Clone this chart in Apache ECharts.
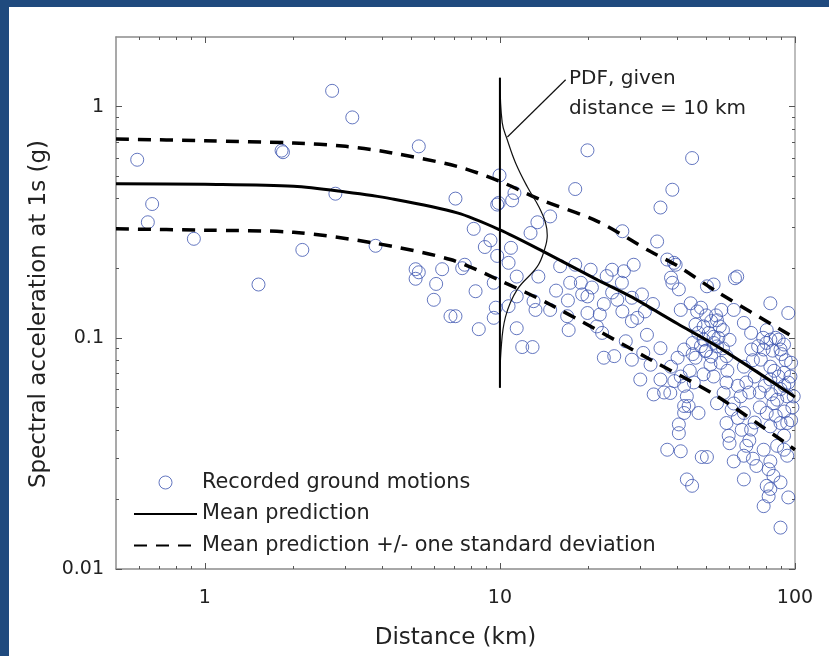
<!DOCTYPE html>
<html>
<head>
<meta charset="utf-8">
<script src="https://cdn.jsdelivr.net/npm/echarts@6/dist/echarts.min.js"></script>
<style>
html,body{margin:0;padding:0;background:#fff;}
#chart{width:829px;height:656px;}
</style>
</head>
<body>
<div id="chart"></div>
<script>
// Recorded ground motions: distance (km) and spectral acceleration (g)
const recordedDist = [0.59,0.663,0.641,0.918,1.82,1.84,2.70,3.16,2.77,2.14,3.79,1.52,5.31,5.18,5.31,5.18,6.37,6.08,5.97,6.8,7.07,8.15,8.89,9.29,9.79,9.97,9.9,9.79,11.0,11.2,10.9,13.4,14.8,12.7,18.0,19.8,26.0,35.0,38.4,44.8,34.1,36.9,39.4,38.0,63.7,16.0,18.0,20.3,24.0,26.3,28.4,7.45,7.6,10.7,11.4,13.5,9.53,8.27,7.07,8.48,9.53,9.68,10.7,11.4,11.9,12.9,11.4,13.0,13.2,14.8,17.3,16.9,17.1,18.8,19.0,19.8,19.8,21.8,21.3,24.0,25.0,25.9,28.0,29.2,30.3,22.2,22.5,24.4,26.7,28.0,30.6,31.5,32.4,29.9,33.2,35,35,37.8,38.4,38.9,40.4,41,42.1,41,42.1,43,43.6,42.1,42.1,40.4,40.4,36.9,41,43,44.8,47.1,48.3,50.3,44.3,46.6,46,49.0,50.3,53,62.6,49,49.7,51.7,49,45.4,53,54.4,55.6,56.3,54.4,58.6,58.6,57.3,61,58.6,59.6,54.4,53,62,62,67.1,71,71.2,67.1,68.4,65.4,67.1,71,68.4,67.1,67.1,74.0,82.5,94.9,80.2,82.5,88,89.3,91.8,78.3,76.6,82.5,91.8,96.5,82.5,89.3,94.1,84.5,80.2,89.3,94.1,82.5,91.8,78.3,87.0,94.1,82.5,81.4,84.5,80.2,82.5,81.4,78.3,94.9,89.3,91.8,99,89.3,
  48,50,52,51,53,55,57,50,52,56,59,47,48,54,57,60,45,46,78,80,84,86,90,93,97,85,88,92,95,79,83,87,98,76,86,92,97,75,72,73,70,62,64,66,70,73,76,72,60,64,38,40,44,36,39,45,15.5,17,20.5,22.5,26,28,23,31,33];
const recordedSa = [0.589,0.379,0.316,0.268,0.645,0.635,1.17,0.898,0.42,0.24,0.25,0.17,0.673,0.198,0.192,0.18,0.198,0.171,0.146,0.124,0.40,0.296,0.247,0.264,0.226,0.504,0.383,0.377,0.393,0.423,0.245,0.316,0.335,0.284,0.44,0.647,0.289,0.366,0.437,0.599,0.261,0.218,0.207,0.182,0.184,0.204,0.207,0.197,0.197,0.194,0.207,0.2,0.207,0.211,0.184,0.184,0.173,0.159,0.124,0.109,0.122,0.135,0.137,0.110,0.0912,0.0912,0.151,0.144,0.132,0.132,0.173,0.124,0.108,0.173,0.154,0.151,0.128,0.126,0.112,0.157,0.146,0.173,0.149,0.122,0.154,0.105,0.082,0.0833,0.0966,0.0804,0.086,0.103,0.0765,0.066,0.0569,0.0902,0.066,0.0577,0.173,0.211,0.162,0.132,0.089,0.068,0.062,0.0558,0.0507,0.0507,0.0473,0.0422,0.0387,0.0328,0.0323,0.0244,0.0229,0.0473,0.0305,0.0305,0.141,0.13,0.114,0.112,0.167,0.17,0.181,0.0982,0.0875,0.0765,0.0695,0.0641,0.101,0.119,0.112,0.132,0.0918,0.0833,0.0641,0.0577,0.0489,0.0428,0.0377,0.0521,0.068,0.0292,0.132,0.116,0.105,0.089,0.075,0.0641,0.0558,0.0473,0.0401,0.0341,0.0309,0.0244,0.0279,0.141,0.128,0.108,0.0982,0.0982,0.089,0.0935,0.089,0.0804,0.075,0.0706,0.068,0.066,0.06,0.0558,0.0521,0.0473,0.0428,0.0428,0.0414,0.0377,0.0328,0.0341,0.0309,0.0292,0.027,0.0253,0.0229,0.0222,0.0206,0.0187,0.0204,0.0151,0.0328,0.0558,0.0237,
  0.135,0.125,0.118,0.105,0.095,0.1,0.09,0.088,0.083,0.078,0.072,0.105,0.092,0.125,0.108,0.098,0.095,0.082,0.1,0.095,0.088,0.1,0.085,0.08,0.078,0.072,0.068,0.062,0.064,0.062,0.057,0.054,0.05,0.058,0.046,0.048,0.044,0.092,0.08,0.068,0.058,0.052,0.045,0.04,0.036,0.043,0.05,0.03,0.035,0.062,0.075,0.082,0.072,0.058,0.065,0.085,0.16,0.145,0.165,0.14,0.13,0.118,0.185,0.13,0.14];

// Mean prediction curve
const meanDist = [0.5, 1, 2, 3, 4.26, 7.17, 10, 13.7, 21.4, 27.7, 40, 54.5, 100];
const meanSa   = [0.464, 0.461, 0.452, 0.427, 0.40, 0.347, 0.293, 0.24, 0.178, 0.151, 0.115, 0.0918, 0.0555];
// Mean + one standard deviation
const upperDist = [0.5, 1, 2, 3, 4.26, 7.17, 10, 13.7, 21.4, 32.4, 39.9, 54.5, 100];
const upperSa   = [0.724, 0.712, 0.696, 0.673, 0.632, 0.551, 0.475, 0.396, 0.319, 0.236, 0.205, 0.158, 0.0998];
// Mean - one standard deviation
const lowerDist = [0.5, 1, 2, 3.74, 6.8, 10, 14.85, 32.4, 54.5, 100];
const lowerSa   = [0.296, 0.292, 0.286, 0.257, 0.218, 0.177, 0.139, 0.0804, 0.0558, 0.0328];
// PDF at distance = 10 km (curve)
const pdfSa   = [1.334, 0.852, 0.719, 0.572, 0.450, 0.369, 0.315, 0.277, 0.2405, 0.203, 0.1616, 0.1234, 0.0888, 0.0608];
const pdfDist = [10.0, 10.18, 10.59, 11.29, 12.38, 13.55, 14.27, 14.47, 14.16, 13.38, 11.44, 10.45, 10.09, 10.0];
const pdfBaseDist = [10, 10];
const pdfBaseSa = [1.334, 0.0608];
// Arrow of the annotation: from label to curve
const arrowFrom = [16.7, 1.307];
const arrowTo = [10.6, 0.739];

// Tick values
const xMajorTicks = [1, 10, 100];
const xMinorTicks = [0.6, 0.7, 0.8, 0.9, 2, 3, 4, 5, 6, 7, 8, 9, 20, 30, 40, 50, 60, 70, 80, 90];
const yMajorTicks = [0.01, 0.1, 1];
const yMinorTicks = [0.02, 0.03, 0.04, 0.05, 0.06, 0.07, 0.08, 0.09, 0.2, 0.3, 0.4, 0.5, 0.6, 0.7, 0.8, 0.9];
const xTickLabels = ['1', '10', '100'];
const yTickLabels = ['0.01', '0.1', '1'];

const X_MIN = 0.5, X_MAX = 100, Y_MIN = 0.01, Y_MAX = 2;
const FONT = 'DejaVu Sans';
const BLUE = '#3d55b0';
const zip = (a, b) => a.map((v, i) => [v, b[i]]);

const chart = echarts.init(document.getElementById('chart'), null, {renderer: 'canvas'});

// Tick-only axes: linear axes over log10 of the same range, drawing the log tick marks
function tickAxis(position, isX, values, len) {
  return {
    type: 'value', position: position,
    min: Math.log10(isX ? X_MIN : Y_MIN), max: Math.log10(isX ? X_MAX : Y_MAX),
    axisLine: {show: false, onZero: false}, axisLabel: {show: false}, splitLine: {show: false},
    axisTick: {show: true, inside: true, length: len, customValues: values.map(v => Math.log10(v)),
      lineStyle: {color: '#555', width: 1}},
    silent: true
  };
}

const option = {
  animation: false,
  backgroundColor: '#ffffff',
  textStyle: {fontFamily: FONT},
  grid: {left: 116, top: 37, right: 34, bottom: 87, containLabel: false},
  graphic: [
    {type: 'rect', shape: {x: 0, y: 0, width: 829, height: 7}, style: {fill: '#1f4a7e'}, silent: true},
    {type: 'rect', shape: {x: 0, y: 0, width: 9, height: 656}, style: {fill: '#1f4a7e'}, silent: true},
    {type: 'text', left: 569, top: 64, style: {text: 'PDF, given\ndistance = 10 km', font: '20px "DejaVu Sans"', fill: '#222', lineHeight: 30}, silent: true}
  ],
  xAxis: [
    {
      type: 'log', logBase: 10, position: 'bottom', min: X_MIN, max: X_MAX,
      axisLine: {show: true, onZero: false, lineStyle: {color: '#8c8c8c', width: 1.5}},
      axisTick: {show: false}, splitLine: {show: false},
      name: 'Distance (km)', nameLocation: 'middle', nameGap: 58,
      nameTextStyle: {fontFamily: FONT, fontSize: 23, color: '#222'},
      axisLabel: {show: true, margin: 20, fontFamily: FONT, fontSize: 19, color: '#222',
        showMinLabel: false,
        formatter: v => xTickLabels.indexOf(String(v)) >= 0 ? String(v) : ''}
    },
    {
      type: 'log', logBase: 10, position: 'top', min: X_MIN, max: X_MAX,
      axisLine: {show: true, onZero: false, lineStyle: {color: '#8c8c8c', width: 1.5}},
      axisTick: {show: false}, axisLabel: {show: false}, splitLine: {show: false}
    },
    tickAxis('bottom', true, xMajorTicks, 6),
    tickAxis('bottom', true, xMinorTicks, 3),
    tickAxis('top', true, xMajorTicks, 6),
    tickAxis('top', true, xMinorTicks, 3)
  ],
  yAxis: [
    {
      type: 'log', logBase: 10, position: 'left', min: Y_MIN, max: Y_MAX,
      axisLine: {show: true, onZero: false, lineStyle: {color: '#8c8c8c', width: 1.5}},
      axisTick: {show: false}, splitLine: {show: false},
      name: 'Spectral acceleration at 1s (g)', nameLocation: 'middle', nameGap: 56, nameRotate: 90,
      nameTextStyle: {fontFamily: FONT, fontSize: 23, color: '#222', padding: [0, 22, 0, 0]},
      axisLabel: {show: true, margin: 12, fontFamily: FONT, fontSize: 19, color: '#222',
        showMaxLabel: false,
        formatter: v => yTickLabels.indexOf(String(v)) >= 0 ? String(v) : ''}
    },
    {
      type: 'log', logBase: 10, position: 'right', min: Y_MIN, max: Y_MAX,
      axisLine: {show: true, onZero: false, lineStyle: {color: '#bdbdbd', width: 2}},
      axisTick: {show: false}, axisLabel: {show: false}, splitLine: {show: false}
    },
    tickAxis('left', false, yMajorTicks, 6),
    tickAxis('left', false, yMinorTicks, 3),
    tickAxis('right', false, yMajorTicks, 6),
    tickAxis('right', false, yMinorTicks, 3)
  ],
  legend: {
    orient: 'vertical', left: 128, top: 467, padding: 5,
    itemWidth: 63, itemHeight: 13, itemGap: 10.5,
    data: [
      {name: 'Recorded ground motions', itemStyle: {borderWidth: 1}},
      {name: 'Mean prediction', itemStyle: {color: 'rgba(0,0,0,0)', borderColor: 'rgba(0,0,0,0)', borderWidth: 0}},
      {name: 'Mean prediction +/- one standard deviation', itemStyle: {color: 'rgba(0,0,0,0)', borderColor: 'rgba(0,0,0,0)', borderWidth: 0}}
    ],
    textStyle: {fontFamily: FONT, fontSize: 20.8, color: '#222', lineHeight: 20}
  },
  series: [
    {
      name: 'Recorded ground motions', type: 'scatter', xAxisIndex: 0, yAxisIndex: 0,
      symbol: 'circle', symbolSize: 13,
      itemStyle: {color: 'rgba(0,0,0,0)', borderColor: BLUE, borderWidth: 1},
      data: zip(recordedDist, recordedSa), z: 2
    },
    {
      name: 'Mean prediction', type: 'line', smooth: 0.3, symbol: 'none',
      itemStyle: {color: '#000'},
      lineStyle: {color: '#000', width: 3},
      data: zip(meanDist, meanSa), z: 3
    },
    {
      name: 'Mean prediction +/- one standard deviation', type: 'line', smooth: 0.3, symbol: 'none',
      itemStyle: {color: '#000'},
      lineStyle: {color: '#000', width: 3.5, type: [13, 9]},
      data: zip(upperDist, upperSa), z: 3
    },
    {
      name: 'Mean prediction +/- one standard deviation', type: 'line', smooth: 0.3, symbol: 'none',
      itemStyle: {color: '#000'},
      lineStyle: {color: '#000', width: 3.5, type: [13, 9]},
      data: zip(lowerDist, lowerSa), z: 3
    },
    {
      name: 'pdf', type: 'line', smooth: 0.4, symbol: 'none',
      lineStyle: {color: '#111', width: 1.2},
      data: zip(pdfDist, pdfSa), z: 4,
      markLine: {
        silent: true, symbol: ['none', 'arrow'], symbolSize: [0, 9],
        lineStyle: {color: '#111', width: 1.2, type: 'solid'},
        label: {show: false},
        data: [[{coord: arrowFrom}, {coord: arrowTo}]]
      }
    },
    {
      name: 'pdfBase', type: 'line', symbol: 'none',
      lineStyle: {color: '#000', width: 2},
      data: zip(pdfBaseDist, pdfBaseSa), z: 4
    }
  ]
};
chart.setOption(option);
</script>
</body>
</html>
